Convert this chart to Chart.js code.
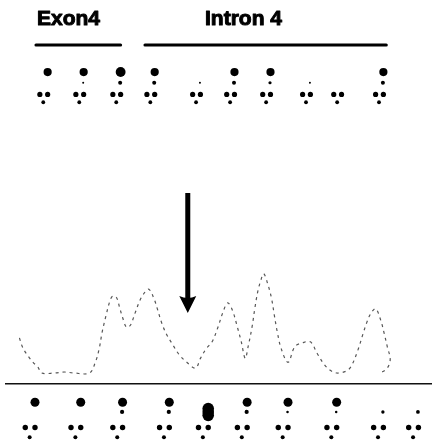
<!DOCTYPE html>
<html><head><meta charset="utf-8">
<script src="https://cdn.jsdelivr.net/npm/chart.js@4/dist/chart.umd.min.js"></script>
<style>html,body{margin:0;padding:0;background:#fff}#w{width:432px;height:446px}</style>
</head><body><div id="w"><canvas id="c"></canvas></div>
<script>
// ---- data ----
const regionLabels = ["Exon4", "Intron 4"];
// chromatogram trace: position along the read and signal height
const traceX = [14,17,21,28,33,37,50,60,70,86,92,96,99,103,107,110,114,117,120,124,128,133,138,143,147,152,156,160,165,171,178,186,195,200,206,212,218,223,228,233,238,242,246,249,253,256,259,262,265,269,273,276,279,283,290,297,305,313,320,327,333,340,350,355,362,367,371,375,380,385,389,392,395,392,385];
const traceSignal = [36,27,20,11,6,0,0,1,0,0,11,25,42,59,74,79,77,67,57,47,49,62,75,83,86,77,65,52,40,30,19,11,5,15,25,32,47,62,72,64,47,32,15,27,47,67,84,95,102,92,77,59,42,25,11,27,31,32,20,9,3,0,2,7,24,40,52,61,66,55,40,27,14,5,0];
// top dot code (upper read): positions and marks per column
const topBases = [39,76,114,149,196,231,268,309,341,384];
const topBig   = [1,1,1.2,1,0,1,1,0,0,1];
const topMid   = [0,0.5,1,1,0.5,1,0.8,0.5,0,1];
// bottom dot code (lower read)
const botBases = [25,72,115,163,203,243,285,335,383,419];
const botBig   = [1,1,1,1,2,1,1,1,0,0];
const botMid   = [0,0,1,1,0,1,0.6,0.6,0.8,0.9];

// ---- build datasets ----
function dotsFor(bases, big, mid, rows, sizes) {
  const pts = [], rad = [];
  bases.forEach((b, i) => {
    const o = sizes.off;
    if (big[i] === 2) {
      pts.push({x: b + o, y: rows.big + 6.5}); rad.push(5.8);
      pts.push({x: b + o, y: rows.big + 10}); rad.push(5.8);
      pts.push({x: b + o, y: rows.big + 13.5}); rad.push(5.8);
    } else if (big[i] > 0) {
      pts.push({x: b + o, y: rows.big}); rad.push(sizes.big * big[i]);
    }
    if (mid[i] > 0) { pts.push({x: b + o - 0.5, y: rows.mid}); rad.push(sizes.mid * mid[i]); }
    pts.push({x: b - o, y: rows.pair}); rad.push(sizes.pair);
    pts.push({x: b + o, y: rows.pair}); rad.push(sizes.pair);
    pts.push({x: b - 0.5, y: rows.low}); rad.push(sizes.low);
  });
  return {pts, rad};
}
const topDots = dotsFor(topBases, topBig, topMid, {big: 68, mid: 79, pair: 91, low: 99}, {off: 4, big: 4.1, mid: 2, pair: 2.6, low: 1.9});
const botDots = dotsFor(botBases, botBig, botMid, {big: 407, mid: 417, pair: 433, low: 443}, {off: 5, big: 4.5, mid: 2.1, pair: 2.7, low: 2});

const overlay = {
  id: 'overlay',
  afterDatasetsDraw(chart) {
    const ctx = chart.ctx, xs = chart.scales.x, ys = chart.scales.ySig;
    ctx.save();
    ctx.fillStyle = '#000'; ctx.strokeStyle = '#000';
    ctx.font = 'bold 21px "Liberation Sans", Arial, sans-serif';
    ctx.textBaseline = 'alphabetic';
    ctx.lineWidth = 1; ctx.lineJoin = 'round';
    ctx.fillText(regionLabels[0], 37, 25); ctx.strokeText(regionLabels[0], 37, 25);
    ctx.fillText(regionLabels[1], 205, 25); ctx.strokeText(regionLabels[1], 205, 25);
    ctx.lineCap = 'round'; ctx.lineWidth = 3;
    ctx.beginPath(); ctx.moveTo(xs.getPixelForValue(31), 45); ctx.lineTo(xs.getPixelForValue(118), 45); ctx.stroke();
    ctx.beginPath(); ctx.moveTo(xs.getPixelForValue(143), 45); ctx.lineTo(xs.getPixelForValue(391), 45); ctx.stroke();
    // baseline of the trace
    ctx.lineCap = 'butt'; ctx.lineWidth = 1.6; ctx.strokeStyle = '#111';
    const by = ys.getPixelForValue(-11);
    ctx.beginPath(); ctx.moveTo(5, by); ctx.lineTo(432, by); ctx.stroke();
    // arrow at the mutated base
    const ax = xs.getPixelForValue(187);
    ctx.fillStyle = '#000';
    ctx.fillRect(ax - 2.5, 193, 5, 106);
    ctx.beginPath();
    ctx.moveTo(ax - 8.5, 296); ctx.quadraticCurveTo(ax, 300, ax + 8.5, 296);
    ctx.lineTo(ax, 313); ctx.closePath(); ctx.fill();
    ctx.restore();
  }
};

new Chart(document.getElementById('c'), {
  type: 'scatter',
  data: {
    datasets: [
      {data: traceX.map((x, i) => ({x, y: traceSignal[i]})), yAxisID: 'ySig', showLine: true,
       borderColor: '#555', borderWidth: 1.2, borderDash: [3, 4], tension: 0.35, pointRadius: 0, fill: false},
      {data: topDots.pts, yAxisID: 'yRow', pointRadius: topDots.rad, backgroundColor: '#000', borderWidth: 0, pointHoverRadius: 0},
      {data: botDots.pts, yAxisID: 'yRow', pointRadius: botDots.rad, backgroundColor: '#000', borderWidth: 0, pointHoverRadius: 0}
    ]
  },
  options: {
    responsive: true, maintainAspectRatio: false, animation: false,
    layout: {padding: 0},
    plugins: {legend: {display: false}, tooltip: {enabled: false}},
    events: [],
    scales: {
      x: {type: 'linear', axis: 'x', min: 0, max: 432, display: false},
      ySig: {type: 'linear', axis: 'y', min: -69, max: 377, display: false},
      yRow: {type: 'linear', axis: 'y', min: 0, max: 446, reverse: true, display: false}
    }
  },
  plugins: [overlay]
});
</script></body></html>
